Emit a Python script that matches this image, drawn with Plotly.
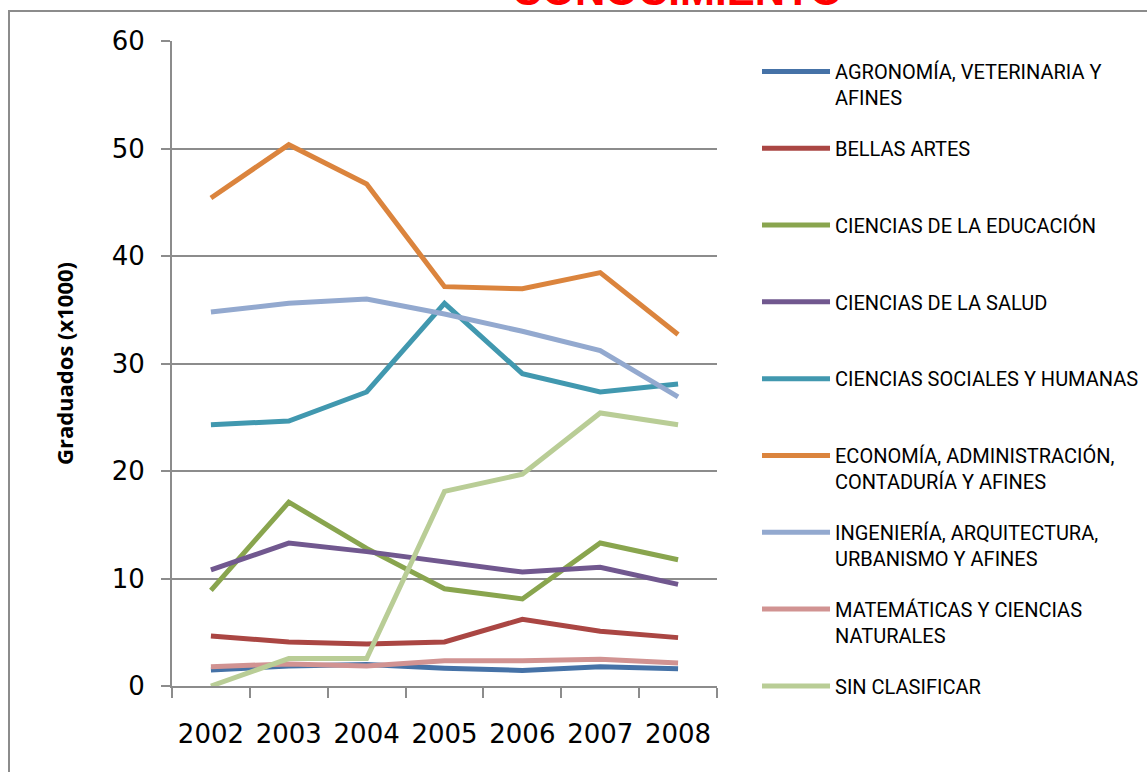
import plotly.graph_objects as go

years = ["2002", "2003", "2004", "2005", "2006", "2007", "2008"]

agronomia = [1.5, 1.85, 2.0, 1.65, 1.45, 1.8, 1.6]
bellas_artes = [4.65, 4.1, 3.9, 4.1, 6.2, 5.1, 4.5]
educacion = [8.9, 17.1, 12.8, 9.05, 8.1, 13.3, 11.75]
salud = [10.8, 13.3, 12.5, 11.5, 10.6, 11.05, 9.45]
sociales = [24.3, 24.65, 27.35, 35.6, 29.05, 27.35, 28.1]
economia = [45.4, 50.35, 46.7, 37.15, 36.95, 38.45, 32.7]
ingenieria = [34.8, 35.6, 36.0, 34.6, 33.0, 31.2, 26.9]
matematicas = [1.8, 2.05, 1.85, 2.35, 2.35, 2.5, 2.15]
sin_clasificar = [0.0, 2.55, 2.55, 18.1, 19.7, 25.4, 24.3]

series = [
    ("AGRONOMÍA, VETERINARIA Y<br>AFINES", agronomia, "#4572A7"),
    ("BELLAS ARTES<br> ", bellas_artes, "#AA4643"),
    ("CIENCIAS DE LA EDUCACIÓN<br> ", educacion, "#89A54E"),
    ("CIENCIAS DE LA SALUD<br> ", salud, "#71588F"),
    ("CIENCIAS SOCIALES Y HUMANAS<br> ", sociales, "#4198AF"),
    ("ECONOMÍA, ADMINISTRACIÓN,<br>CONTADURÍA Y AFINES", economia, "#DB843D"),
    ("INGENIERÍA, ARQUITECTURA,<br>URBANISMO Y AFINES", ingenieria, "#93A9CF"),
    ("MATEMÁTICAS Y CIENCIAS<br>NATURALES", matematicas, "#D19392"),
    ("SIN CLASIFICAR<br> ", sin_clasificar, "#B9CD96"),
]

fig = go.Figure()
for i, (name, vals, color) in enumerate(series):
    # la leyenda es demasiado alta para una sola caja: se parte en dos
    fig.add_trace(go.Scatter(x=years, y=vals, name=name, mode="lines",
                             legendgroup=f"g{i}",
                             legend="legend" if i < 5 else "legend2",
                             line=dict(color=color, width=5)))

tick_font = dict(family="DejaVu Sans", size=26, color="black")
legend_style = dict(xanchor="left", yanchor="top",
                    font=dict(family="Roboto", size=20, color="black"),
                    valign="top", itemwidth=68, tracegroupgap=21.8,
                    bgcolor="rgba(0,0,0,0)")

fig.update_layout(
    width=1147, height=772,
    margin=dict(l=172, r=430, t=41, b=86, autoexpand=False),
    paper_bgcolor="white", plot_bgcolor="white",
    showlegend=True,
    legend=dict(x=1.0734, y=0.983, **legend_style),
    legend2=dict(x=1.0734, y=(686 - 436) / 645, **legend_style),
    xaxis=dict(type="category", range=[-0.5, 6.5], tickson="boundaries",
               ticks="outside", ticklen=10, tickcolor="#8c8c8c", tickwidth=2,
               showgrid=False, showline=True, linecolor="#8c8c8c", linewidth=2,
               tickangle=0, tickfont=tick_font, ticklabelstandoff=24),
    yaxis=dict(range=[0, 60], dtick=10, ticks="outside", ticklen=9,
               tickcolor="#8c8c8c", tickwidth=2,
               showgrid=True, gridcolor="#8c8c8c", gridwidth=2,
               showline=True, linecolor="#8c8c8c", linewidth=2, zeroline=False,
               tickfont=tick_font, ticklabelstandoff=11,
               title=dict(text="<b>Graduados (x1000)</b>", standoff=32,
                          font=dict(family="Open Sans", size=22, color="black"))),
)

# borde del área del gráfico (sale por derecha y abajo)
fig.add_shape(type="rect", xref="paper", yref="paper",
              x0=(9 - 172) / 545, x1=2.0, y0=-1.0, y1=(686 - 11) / 645,
              line=dict(color="#8c8c8c", width=2), layer="below")

# título cortado arriba, como en la imagen original
fig.add_annotation(text="<b>CONOCIMIENTO</b>", xref="paper", yref="paper",
                   x=(677 - 172) / 545, xanchor="center",
                   y=(686 - 16) / 645, yanchor="bottom",
                   showarrow=False, font=dict(family="Liberation Sans", size=42, color="#FF0000"))

# sin margen del body para que el lienzo empiece en (0, 0)
fig.write_html("out.html", config={"displayModeBar": False},
               post_script="document.body.style.margin='0';")
